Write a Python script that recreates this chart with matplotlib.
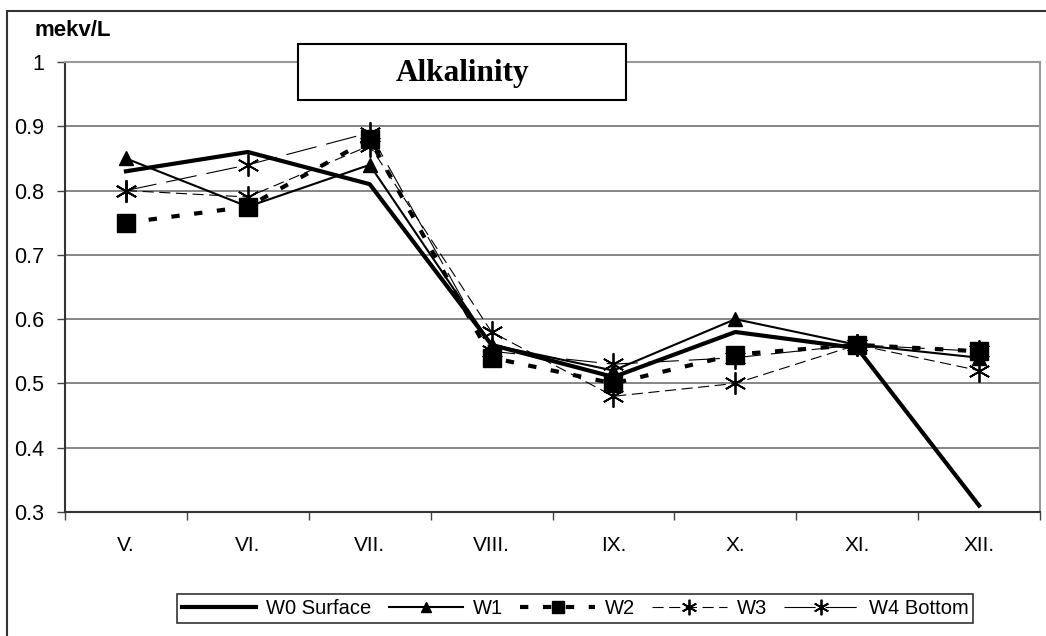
import matplotlib
matplotlib.use("Agg")
import matplotlib.pyplot as plt
from matplotlib.patches import Rectangle
from matplotlib.ticker import FixedLocator

months = ["V.", "VI.", "VII.", "VIII.", "IX.", "X.", "XI.", "XII."]
w0_surface = [0.83, 0.86, 0.81, 0.56, 0.51, 0.58, 0.555, 0.31]
w1 = [0.85, 0.775, 0.84, 0.56, 0.52, 0.60, 0.56, 0.54]
w2 = [0.75, 0.775, 0.88, 0.54, 0.50, 0.545, 0.56, 0.55]
w3 = [0.80, 0.79, 0.87, 0.58, 0.48, 0.50, 0.56, 0.52]
w4_bottom = [0.80, 0.84, 0.89, 0.55, 0.53, 0.54, 0.56, 0.55]

plt.rcParams['font.family'] = ['Liberation Sans', 'DejaVu Sans']

W, H = 1046, 636
fig = plt.figure(figsize=(W / 100, H / 100), dpi=100)
ax = fig.add_axes([65 / W, 1 - 512 / H, (1040 - 65) / W, (512 - 62) / H])

x = list(range(len(months)))
asterisk = (6, 2, 0)

ax.plot(x, w0_surface, color="black", lw=3.0, label="W0 Surface", zorder=3)
ax.plot(x, w1, color="black", lw=1.5, marker="^", ms=10, label="W1", zorder=3)
ax.plot(x, w2, color="black", lw=3, dashes=(2, 3.5), marker="s", ms=13,
        label="W2", zorder=3)
ax.plot(x, w3, color="black", lw=0.8, dashes=(10, 5), marker=asterisk, ms=16,
        mew=1.3, label="W3", zorder=3)
ax.plot(x, w4_bottom, color="black", lw=0.8, dashes=(28, 9), marker=asterisk, ms=16,
        mew=1.3, label="W4 Bottom", zorder=3)

ax.set_xlim(-0.5, len(months) - 0.5)
ax.set_ylim(0.3, 1.0)
ax.set_yticks([0.3, 0.4, 0.5, 0.6, 0.7, 0.8, 0.9, 1.0])
ax.set_yticklabels(["0.3", "0.4", "0.5", "0.6", "0.7", "0.8", "0.9", "1"])
ax.set_xticks(x)
ax.set_xticklabels(months)
ax.xaxis.set_minor_locator(FixedLocator([i - 0.5 for i in range(len(months) + 1)]))
ax.tick_params(axis="x", which="major", length=0, pad=17, labelsize=15)
ax.tick_params(axis="x", which="minor", length=6, width=1, direction="out", color="#444444")
ax.tick_params(axis="y", length=6, width=1, direction="out", pad=9, labelsize=15.5,
               color="#444444")

ax.grid(axis="y", color="#666666", lw=1.1)
ax.set_axisbelow(True)
for side in ["left", "bottom"]:
    ax.spines[side].set_color("#333333")
    ax.spines[side].set_linewidth(1.5)
for side in ["top", "right"]:
    ax.spines[side].set_color("#999999")
    ax.spines[side].set_linewidth(1.5)

# outer chart-area frame
fig.patches.append(Rectangle((7 / W, -0.05), 1.1, 1 - 11 / H + 0.05, transform=fig.transFigure,
                             fill=False, edgecolor="#333333", lw=1.5, zorder=0))

fig.text(35 / W, 1 - 31 / H, "mekv/L", fontsize=16, fontweight="bold", va="center")

# title box
fig.patches.append(Rectangle((298 / W, 1 - 100 / H), (626 - 298) / W, (100 - 44) / H,
                             transform=fig.transFigure, facecolor="white",
                             edgecolor="black", lw=1.5, zorder=5))
fig.text(462 / W, 1 - 73 / H, "Alkalinity", fontsize=22.5, fontweight="bold",
         family=["Liberation Serif", "DejaVu Serif"], ha="center", va="center", zorder=6)

leg = fig.legend(loc="center", bbox_to_anchor=(575 / W, 1 - 608.5 / H), ncol=5,
                 fontsize=14.5, frameon=True, fancybox=False, handlelength=3.7,
                 handletextpad=0.5, columnspacing=0.85, borderpad=0.25,
                 borderaxespad=0, markerscale=0.7)
leg.get_frame().set_edgecolor("black")
leg.get_frame().set_linewidth(1.2)

fig.savefig("out.png", dpi=100, facecolor="white")
